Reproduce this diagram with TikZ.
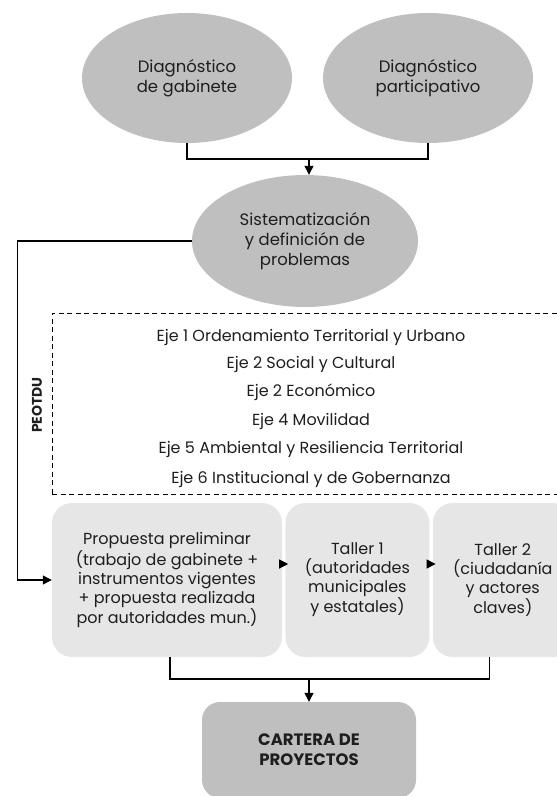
\documentclass[tikz,border=0pt]{standalone}
\usepackage{fontspec}
\setmainfont{Poppins}
\usetikzlibrary{shapes.geometric,arrows.meta,positioning}
\definecolor{grisosc}{RGB}{191,191,191}
\definecolor{grisclaro}{RGB}{231,230,230}
\definecolor{texto}{RGB}{30,30,30}

\begin{document}
\begin{tikzpicture}[x=1pt,y=-1pt,
    >={Triangle[length=9pt,width=9pt]},
    conn/.style={draw,line width=1.2pt},
    elip/.style={ellipse,fill=grisosc,minimum width=210pt,minimum height=130pt,inner sep=0pt,align=center,text=texto,font=\fontsize{16.5}{20}\selectfont},
    caja/.style={rectangle,rounded corners=20pt,fill=grisclaro,minimum height=154pt,inner sep=0pt,align=center,text=texto,font=\fontsize{16}{19}\selectfont},
    eje/.style={text=texto,font=\fontsize{16}{18}\selectfont}]
  \useasboundingbox (0,0) rectangle (557,796);
  \clip (0,0) rectangle (557,796);

  % diagnosticos
  \node[elip] (DG) at (187,78) {Diagnóstico\\de gabinete};
  \node[elip] (DP) at (428,78) {Diagnóstico\\participativo};
  \node[elip,minimum width=226pt,minimum height=132pt] (SP) at (305,241) {Sistematización\\y definición de\\problemas};

  % ejes del PEOTDU
  \node[draw,dashed,dash pattern=on 5pt off 3.5pt,line width=0.9pt,minimum width=540pt,minimum height=181pt,anchor=north west] (EJES) at (52,313) {};
  \node[font=\bfseries\fontsize{14}{16}\selectfont,text=texto,rotate=90] (PE) at (37,405) {PEOTDU};
  \node[eje] (E1) at (311,337) {Eje 1 Ordenamiento Territorial y Urbano};
  \node[eje] (E2) at (311,364) {Eje 2 Social y Cultural};
  \node[eje] (E3) at (311,392) {Eje 2 Económico};
  \node[eje] (E4) at (311,421) {Eje 4 Movilidad};
  \node[eje] (E5) at (311,449) {Eje 5 Ambiental y Resiliencia Territorial};
  \node[eje] (E6) at (311,479) {Eje 6 Institucional y de Gobernanza};

  % propuesta y talleres
  \node[caja,minimum width=230pt] (B1) at (167,580) {Propuesta preliminar\\(trabajo de gabinete +\\instrumentos vigentes\\+ propuesta realizada\\por autoridades mun.)};
  \node[caja,minimum width=144pt] (B2) [right=3pt of B1] {Taller 1\\(autoridades\\municipales\\y estatales)};
  \node[caja,minimum width=140pt] (B3) [right=3pt of B2] {Taller 2\\(ciudadanía\\y actores\\claves)};

  \node[rectangle,rounded corners=18pt,fill=grisosc,minimum width=214pt,minimum height=96pt,align=center,text=texto,font=\bfseries\fontsize{16.5}{20}\selectfont] (CP) at (309,750) {CARTERA DE\\PROYECTOS};

  \coordinate (J1) at (309,159);
  \coordinate (J2) at (309,679);

  \draw[conn] (DG.south) |- (J1) -| (DP.south);
  \draw[conn,->] (J1) -- (J1 |- SP.north);
  \draw[conn,->] (SP.west) -| ([xshift=-34pt]B1.west) -- (B1.west);
  \draw[conn,->] ([yshift=16pt]B1.east) -- ([xshift=3pt,yshift=16pt]B2.west);
  \draw[conn,->] ([yshift=16pt]B2.east) -- ([xshift=3pt,yshift=16pt]B3.west);
  \draw[conn] ([xshift=3pt]B1.south) |- (J2) -| ([xshift=-13pt]B3.south);
  \draw[conn,->] (J2) -- (CP.north);
\end{tikzpicture}
\end{document}
